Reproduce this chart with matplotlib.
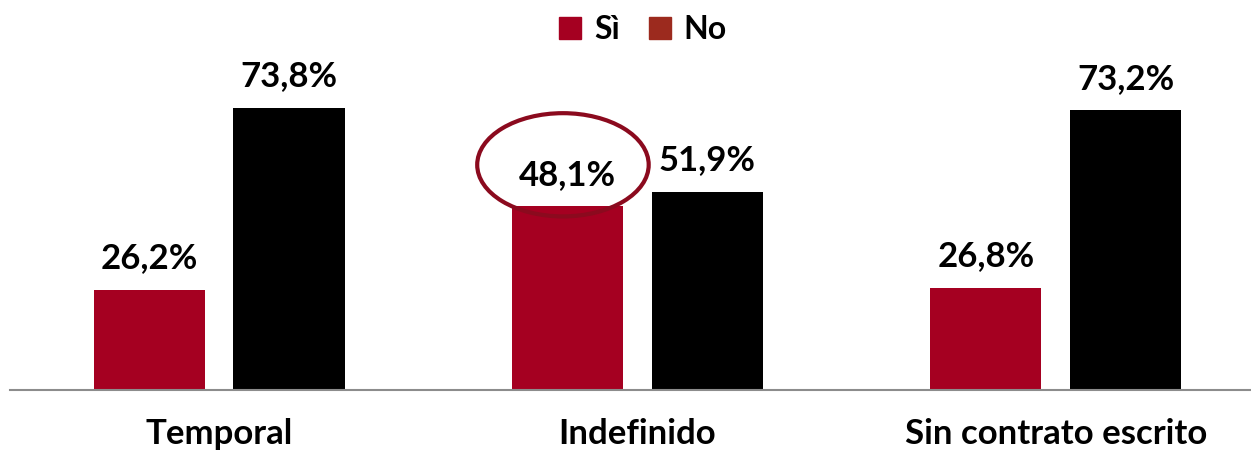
import numpy as np
import matplotlib.pyplot as plt
from matplotlib.patches import Ellipse, Patch

categories = ['Temporal', 'Indefinido', 'Sin contrato escrito']
si = [26.2, 48.1, 26.8]
no = [73.8, 51.9, 73.2]

red = '#A50021'
plt.rcParams['font.family'] = ['Lato', 'DejaVu Sans']

fig = plt.figure(figsize=(12.51, 4.55), dpi=100)
ax = fig.add_axes([10 / 1251, 65 / 455, 1 - 10 / 1251, 390 / 455])

x = np.arange(len(categories))
w = 0.266
b1 = ax.bar(x - 0.167, si, w, color=red)
b2 = ax.bar(x + 0.167, no, w, color='black')

for bars, vals in ((b1, si), (b2, no)):
    for r, v in zip(bars, vals):
        ax.annotate(f'{v:.1f}%'.replace('.', ','),
                    (r.get_x() + r.get_width() / 2, r.get_height()),
                    xytext=(0, 11), textcoords='offset points',
                    ha='center', va='bottom', fontsize=25, fontweight='bold')

# highlight circle round the Indefinido "Si" label
ax.add_patch(Ellipse((0.822, 58.9), 0.41, 27, fill=False,
                     edgecolor='#8B0A1E', lw=3, clip_on=False))

ax.set_xlim(-0.5, 2.467)
ax.set_ylim(0, 102)
ax.set_yticks([])
ax.set_xticks(x)
ax.set_xticklabels(categories, fontsize=25, fontweight='bold')
ax.tick_params(axis='x', length=0, pad=20)
for s in ['top', 'right', 'left']:
    ax.spines[s].set_visible(False)
ax.spines['bottom'].set_color('#8c8c8c')
ax.spines['bottom'].set_linewidth(1.5)

handles = [Patch(color=red, label='Sì'), Patch(color='#9C2A1E', label='No')]
fig.legend(handles=handles, loc='upper center', bbox_to_anchor=(0.514, 1.03),
           ncol=2, frameon=False, handlelength=0.7, handleheight=0.7,
           handletextpad=0.4, columnspacing=0.9,
           prop={'size': 23, 'weight': 'bold'})

fig.savefig('out.png', dpi=100)
